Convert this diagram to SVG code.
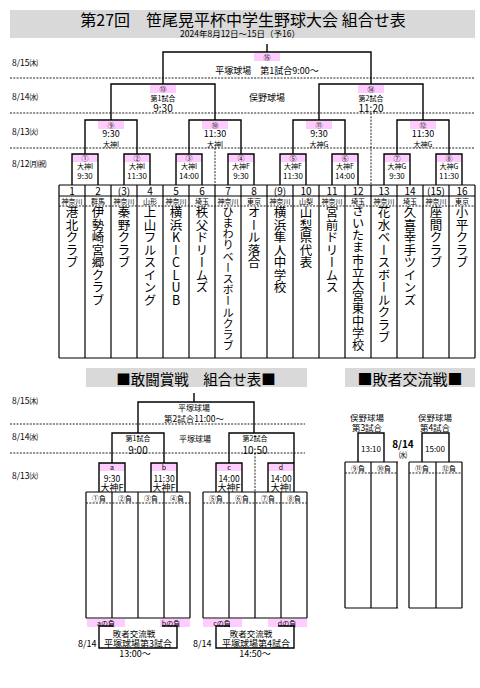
<svg xmlns="http://www.w3.org/2000/svg" width="480" height="688" viewBox="0 0 480 688">
<style>
text{font-family:"Noto Sans CJK JP","Noto Sans",sans-serif;fill:#000;dominant-baseline:central}
.c{text-anchor:middle}
.ln{stroke:#000;stroke-width:1.4;fill:none}
.gl{stroke:#000;stroke-width:1.2;fill:none}
.dot{stroke:#222;stroke-width:1;stroke-dasharray:2 1.3;fill:none}
.pk{fill:#ffccff}
.gr{fill:#d9d9d9}
.v{writing-mode:vertical-rl;text-orientation:upright;font-size:12.5px;dominant-baseline:auto}
.d{font-size:8.5px}
.n{font-size:7px}
.s7{font-size:7px}
.s8{font-size:8px}
.s9{font-size:9px}
.s10{font-size:10px}
</style>
<rect width="480" height="688" fill="#fff"/>

<!-- titles -->
<g id="title">
<rect class="gr" x="10" y="10" width="465" height="28"/>
<text class="c" x="243" y="19" font-size="16">第27回　笹尾晃平杯中学生野球大会 組合せ表</text>
<text class="c" x="240" y="33" font-size="8.5">2024年8月12日～15日（予16）</text>
</g>

<!-- date labels & rules (upper) -->
<g id="dates-upper">
<text class="d" x="12" y="62">8/15㈭</text>
<text class="d" x="12" y="96">8/14㈬</text>
<text class="d" x="12" y="131">8/13㈫</text>
<text class="d" x="12" y="163">8/12㈪㈷</text>
<path class="dot" d="M10,78H475M10,113H475M10,148H475M215,148V185M371,113V185"/>
</g>

<!-- connectors -->
<g id="connectors">
<path class="ln" d="M267,44V52M163,84V52H371V84"/>
<path class="ln" d="M111,120V84H215V120M319,120V84H423V120"/>
<path class="ln" d="M85,154V120H137V154M189,154V120H241V154M293,154V120H345V154M397,154V120H449V154"/>
<path class="ln" d="M194,393V402M138,433V402H254V433"/>
<path class="ln" d="M112,463V433H164V463M229,463V433H294V463"/>
</g>

<!-- final & later rounds -->
<g id="m15"><rect class="pk" x="254" y="53" width="26" height="8"/><text class="c n" x="267" y="57">⑮</text>
<text class="c s9" x="267" y="70">平塚球場　第1試合9:00～</text></g>
<g id="venue2"><text class="c s9" x="267" y="97">俣野球場</text></g>
<g id="m13"><rect class="pk" x="150" y="85" width="26" height="8"/><text class="c n" x="163" y="89">⑬</text>
<text class="c s7" x="163" y="97.5">第1試合</text><text class="c s10" x="163" y="107.5">9:30</text></g>
<g id="m14"><rect class="pk" x="358" y="85" width="26" height="8"/><text class="c n" x="371" y="89">⑭</text>
<text class="c s7" x="371" y="97.5">第2試合</text><text class="c s10" x="371" y="107.5">11:20</text></g>
<g id="m9"><rect class="pk" x="98" y="121" width="26" height="8"/><text class="c n" x="111" y="125">⑨</text>
<text class="c s9" x="111" y="133.5">9:30</text><text class="c s7" x="111" y="144">大神I</text></g>
<g id="m10"><rect class="pk" x="202" y="121" width="26" height="8"/><text class="c n" x="215" y="125">⑩</text>
<text class="c s9" x="215" y="133.5">11:30</text><text class="c s7" x="215" y="144">大神I</text></g>
<g id="m11"><rect class="pk" x="306" y="121" width="26" height="8"/><text class="c n" x="319" y="125">⑪</text>
<text class="c s9" x="319" y="133.5">9:30</text><text class="c s7" x="319" y="144">大神G</text></g>
<g id="m12"><rect class="pk" x="410" y="121" width="26" height="8"/><text class="c n" x="423" y="125">⑫</text>
<text class="c s9" x="423" y="133.5">11:30</text><text class="c s7" x="423" y="144">大神G</text></g>

<!-- round 1 -->
<g id="m1"><rect class="pk" x="72" y="154" width="26" height="8"/><path class="ln" d="M72,185V154H98V185"/><text class="c n" x="85" y="158">①</text><text class="c s7" x="85" y="166">大神I</text><text class="c s8" x="85" y="175">9:30</text></g>
<g id="m2"><rect class="pk" x="124" y="154" width="26" height="8"/><path class="ln" d="M124,185V154H150V185"/><text class="c n" x="137" y="158">②</text><text class="c s7" x="137" y="166">大神I</text><text class="c s8" x="137" y="175">11:30</text></g>
<g id="m3"><rect class="pk" x="176" y="154" width="26" height="8"/><path class="ln" d="M176,185V154H202V185"/><text class="c n" x="189" y="158">③</text><text class="c s7" x="189" y="166">大神I</text><text class="c s8" x="189" y="175">14:00</text></g>
<g id="m4"><rect class="pk" x="228" y="154" width="26" height="8"/><path class="ln" d="M228,185V154H254V185"/><text class="c n" x="241" y="158">④</text><text class="c s7" x="241" y="166">大神F</text><text class="c s8" x="241" y="175">9:30</text></g>
<g id="m5"><rect class="pk" x="280" y="154" width="26" height="8"/><path class="ln" d="M280,185V154H306V185"/><text class="c n" x="293" y="158">⑤</text><text class="c s7" x="293" y="166">大神F</text><text class="c s8" x="293" y="175">11:30</text></g>
<g id="m6"><rect class="pk" x="332" y="154" width="26" height="8"/><path class="ln" d="M332,185V154H358V185"/><text class="c n" x="345" y="158">⑥</text><text class="c s7" x="345" y="166">大神F</text><text class="c s8" x="345" y="175">14:00</text></g>
<g id="m7"><rect class="pk" x="384" y="154" width="26" height="8"/><path class="ln" d="M384,185V154H410V185"/><text class="c n" x="397" y="158">⑦</text><text class="c s7" x="397" y="166">大神G</text><text class="c s8" x="397" y="175">9:30</text></g>
<g id="m8"><rect class="pk" x="436" y="154" width="26" height="8"/><path class="ln" d="M436,185V154H462V185"/><text class="c n" x="449" y="158">⑧</text><text class="c s7" x="449" y="166">大神G</text><text class="c s8" x="449" y="175">11:30</text></g>

<!-- team grid -->
<g id="team-grid">
<path class="gl" d="M59,185H475M59,196H475M59,358H475M59,185V358M85,185V358M111,185V358M137,185V358M163,185V358M189,185V358M215,185V358M241,185V358M267,185V358M293,185V358M319,185V358M345,185V358M371,185V358M397,185V358M423,185V358M449,185V358M475,185V358"/>
<path class="dot" d="M59,206H475"/>
</g>
<g id="t1"><text class="c s10" x="72" y="190.5">1</text><text class="c s7" x="72" y="201">神奈川</text><text class="v" x="72" y="206">港北クラブ</text></g>
<g id="t2"><text class="c s10" x="98" y="190.5">2</text><text class="c s7" x="98" y="201">群馬</text><text class="v" x="98" y="206">伊勢崎宮郷クラブ</text></g>
<g id="t3"><text class="c s10" x="124" y="190.5">(3)</text><text class="c s7" x="124" y="201">神奈川</text><text class="v" x="124" y="206">秦野クラブ</text></g>
<g id="t4"><text class="c s10" x="150" y="190.5">4</text><text class="c s7" x="150" y="201">山形</text><text class="v" x="150" y="206">上山フルスイング</text></g>
<g id="t5"><text class="c s10" x="176" y="190.5">5</text><text class="c s7" x="176" y="201">神奈川</text><text class="v" x="176" y="206">横浜KーCLUB</text></g>
<g id="t6"><text class="c s10" x="202" y="190.5">6</text><text class="c s7" x="202" y="201">埼玉</text><text class="v" x="202" y="206">秩父ドリームズ</text></g>
<g id="t7"><text class="c s10" x="228" y="190.5">7</text><text class="c s7" x="228" y="201">神奈川</text><text class="v" x="228" y="206" style="font-size:11.2px">ひまわりベースボールクラブ</text></g>
<g id="t8"><text class="c s10" x="254" y="190.5">8</text><text class="c s7" x="254" y="201">東京</text><text class="v" x="254" y="206">オール落合</text></g>
<g id="t9"><text class="c s10" x="280" y="190.5">(9)</text><text class="c s7" x="280" y="201">神奈川</text><text class="v" x="280" y="206">横浜隼人中学校</text></g>
<g id="t10"><text class="c s10" x="306" y="190.5">10</text><text class="c s7" x="306" y="201">山梨</text><text class="v" x="306" y="206">山梨県代表</text></g>
<g id="t11"><text class="c s10" x="332" y="190.5">11</text><text class="c s7" x="332" y="201">神奈川</text><text class="v" x="332" y="206">宮前ドリームス</text></g>
<g id="t12"><text class="c s10" x="358" y="190.5">12</text><text class="c s7" x="358" y="201">埼玉</text><text class="v" x="358" y="205" style="font-size:12.2px">さいたま市立大宮東中学校</text></g>
<g id="t13"><text class="c s10" x="384" y="190.5">13</text><text class="c s7" x="384" y="201">神奈川</text><text class="v" x="384" y="206">花水ベースボールクラブ</text></g>
<g id="t14"><text class="c s10" x="410" y="190.5">14</text><text class="c s7" x="410" y="201">埼玉</text><text class="v" x="410" y="206">久喜幸手ツインズ</text></g>
<g id="t15"><text class="c s10" x="436" y="190.5">(15)</text><text class="c s7" x="436" y="201">神奈川</text><text class="v" x="436" y="206">座間クラブ</text></g>
<g id="t16"><text class="c s10" x="462" y="190.5">16</text><text class="c s7" x="462" y="201">東京</text><text class="v" x="462" y="206">小平クラブ</text></g>

<!-- lower section -->
<g id="lower-title1"><rect class="gr" x="86" y="368" width="221" height="19"/><text class="c" x="196" y="378" font-size="14.5">■敢闘賞戦　組合せ表■</text></g>
<g id="lower-title2"><rect class="gr" x="345" y="368" width="130" height="19"/><text class="c" x="410" y="378" font-size="15">■敗者交流戦■</text></g>

<g id="dates-lower">
<text class="d" x="12" y="400">8/15㈭</text>
<text class="d" x="12" y="436">8/14㈬</text>
<text class="d" x="12" y="475">8/13㈫</text>
<path class="dot" d="M10,424H305M10,453H305M255,453V492"/>
</g>

<g id="lf"><text class="c s8" x="194" y="407.5">平塚球場</text><text class="c" x="194" y="418" font-size="8.5">第2試合11:00～</text></g>
<g id="ls1"><text class="c s7" x="138" y="438">第1試合</text><text class="c s10" x="138" y="449">9:00</text></g>
<g id="lvenue"><text class="c s8" x="195" y="438">平塚球場</text></g>
<g id="ls2"><text class="c s7" x="255" y="438">第2試合</text><text class="c s10" x="255" y="449">10:50</text></g>

<g id="la"><rect class="pk" x="99" y="463" width="26" height="8"/><path class="ln" d="M99,492V463H125V492"/><text class="c s7" x="112" y="467">a</text><text class="c" x="112" y="477.5" font-size="8.5">9:30</text><text class="c s9" x="112" y="487">大神F</text></g>
<g id="lb"><rect class="pk" x="151" y="463" width="26" height="8"/><path class="ln" d="M151,492V463H177V492"/><text class="c s7" x="164" y="467">b</text><text class="c" x="164" y="477.5" font-size="8.5">11:30</text><text class="c s9" x="164" y="487">大神F</text></g>
<g id="lc"><rect class="pk" x="216" y="463" width="26" height="8"/><path class="ln" d="M216,492V463H242V492"/><text class="c s7" x="229" y="467">c</text><text class="c" x="229" y="477.5" font-size="8.5">14:00</text><text class="c s9" x="229" y="487">大神F</text></g>
<g id="ld"><rect class="pk" x="268" y="463" width="26" height="8"/><path class="ln" d="M268,492V463H294V492"/><text class="c s7" x="281" y="467">d</text><text class="c" x="281" y="477.5" font-size="8.5">14:00</text><text class="c s9" x="281" y="487">大神I</text></g>

<g id="lgrid">
<path class="gl" d="M86,492H190M86,618H190M86,492V618M112,492V618M138,492V618M164,492V618M190,492V618M203,492H307M203,618H307M203,492V618M229,492V618M255,492V618M281,492V618M307,492V618"/>
<path class="dot" d="M86,503H190M203,503H307"/>
<text class="c s7" x="99" y="498">①負</text><text class="c s7" x="125" y="498">②負</text><text class="c s7" x="151" y="498">③負</text><text class="c s7" x="177" y="498">④負</text>
<text class="c s7" x="216" y="498">⑤負</text><text class="c s7" x="242" y="498">⑥負</text><text class="c s7" x="268" y="498">⑦負</text><text class="c s7" x="294" y="498">⑧負</text>
</g>

<g id="lx3">
<rect class="pk" x="87" y="619" width="38" height="8"/><rect class="pk" x="160" y="619" width="30" height="8"/>
<text class="c s7" x="106" y="623">aの負</text><text class="c s7" x="171" y="623">bの負</text>
<path class="ln" d="M113,626H99V648H177V626H162" stroke-width="1.2"/>
<text class="c" x="134" y="633" font-size="8.5">敗者交流戦</text>
<text class="c s9" x="138" y="643">平塚球場第3試合</text>
<text class="s9" x="78" y="643">8/14</text>
<text class="c s9" x="135" y="653">13:00～</text>
</g>
<g id="lx4">
<rect class="pk" x="203" y="619" width="39" height="8"/><rect class="pk" x="268" y="619" width="39" height="8"/>
<text class="c s7" x="222" y="623">cの負</text><text class="c s7" x="287" y="623">dの負</text>
<path class="ln" d="M230,626H216V648H294V626H278" stroke-width="1.2"/>
<text class="c" x="251" y="633" font-size="8.5">敗者交流戦</text>
<text class="c s9" x="256" y="643">平塚球場第4試合</text>
<text class="s9" x="193" y="643">8/14</text>
<text class="c s9" x="255" y="653">14:50～</text>
</g>

<!-- 敗者交流戦 -->
<g id="k3"><text class="c" x="367" y="417" font-size="8.5">俣野球場</text><text class="c" x="367" y="427" font-size="8.5">第3試合</text>
<path class="ln" d="M358,462V433H384V462"/><text class="c s8" x="371" y="448">13:10</text></g>
<g id="k4"><text class="c" x="435" y="417" font-size="8.5">俣野球場</text><text class="c" x="435" y="427" font-size="8.5">第4試合</text>
<path class="ln" d="M422,462V433H449V462"/><text class="c s8" x="435" y="448">15:00</text></g>
<g id="kdate"><text class="c s10" x="403" y="443" font-weight="bold">8/14</text><text class="c s8" x="403" y="454">㈬</text></g>
<g id="kgrid">
<path class="gl" d="M345,462H398M345,608H398M345,462V608M371,462V608M397,462V608M409,462H462M409,608H462M409,462V608M436,462V608M462,462V608"/>
<path class="dot" d="M345,473H397M409,473H462"/>
<text class="c s7" x="358" y="468">⑨負</text><text class="c s7" x="384" y="468">⑩負</text><text class="c s7" x="422" y="468">⑪負</text><text class="c s7" x="449" y="468">⑫負</text>
</g>
</svg>
